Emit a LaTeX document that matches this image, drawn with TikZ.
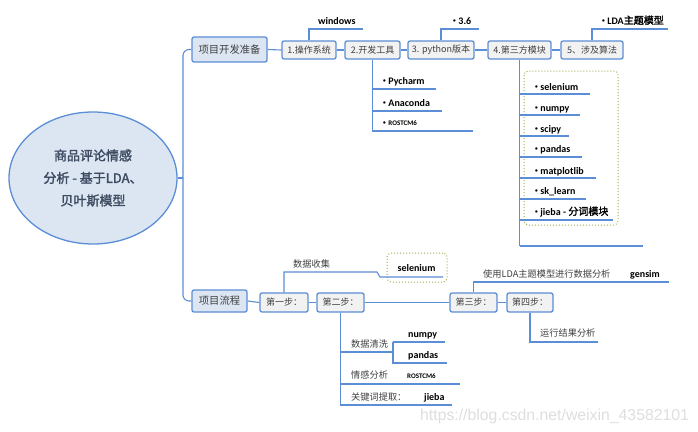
\documentclass[tikz,border=0pt]{standalone}
\usepackage{fontspec}
\setmainfont{Carlito}
\newfontfamily\cjk[AutoFakeBold=2]{Noto Sans CJK SC}
\newfontfamily\wmfont{Liberation Sans}
\usetikzlibrary{shapes.geometric}
\definecolor{lb}{HTML}{5B8ED6}
\definecolor{lbfill}{HTML}{DCE6F2}
\definecolor{boxfill}{HTML}{F2F2F2}
\definecolor{grn}{HTML}{9BAE4E}
\definecolor{dtext}{HTML}{3F3F3F}
\definecolor{roottext}{HTML}{3E4C62}
\newcommand{\bul}{\raisebox{0.25ex}{\fontsize{5.5}{6}\selectfont•}\hspace{2.5pt}}
\begin{document}
\begin{tikzpicture}[x=1pt,y=-1pt,
  ln/.style={draw=lb,line width=1.1pt},
  stepbox/.style={draw=lb,line width=1.3pt,rounded corners=2pt,fill=boxfill,
    font=\cjk\fontsize{9}{10}\selectfont,text=dtext,minimum height=19pt,inner sep=1pt},
  topbox/.style={stepbox,fill=lbfill,font=\cjk\fontsize{10.3}{12}\selectfont},
  lat/.style={inner sep=0,anchor=base west,font=\bfseries\fontsize{10}{11}\selectfont,text=black},
  small/.style={lat,font=\bfseries\fontsize{7}{8}\selectfont},
  ctx/.style={inner sep=0,anchor=base west,font=\cjk\fontsize{9.2}{10}\selectfont,text=dtext},
  dotbox/.style={draw=grn,line width=1pt,dotted,rounded corners=4pt}
]
\useasboundingbox (0,0) rectangle (698,431);

% root
\node[ellipse,draw=lb,line width=1.3pt,fill=lbfill,minimum width=168pt,minimum height=132pt,
  align=center,font=\cjk\bfseries\fontsize{13}{22.5}\selectfont,text=roottext] (root) at (93,178)
  {商品评论情感\\分析 - 基于LDA、\\贝叶斯模型};

% level 1
\node[topbox,minimum width=75pt,minimum height=25pt] (dev) at (229.5,49.5) {项目开发准备};
\node[topbox,minimum width=55pt,minimum height=22pt] (flow) at (219.5,301) {项目流程};
\coordinate (tr) at (183,178);
\draw[ln] (root.east) -- (tr);
\draw[ln,rounded corners=6pt] (dev.west) -| (tr) |- (flow.west);

% top row
\node[stepbox,minimum width=54pt,minimum height=18pt] (os) at (309,50) {1.操作系统};
\node[stepbox,minimum width=55pt,minimum height=18pt] (tool) at (372.5,50) {2.开发工具};
\node[stepbox,minimum width=66pt,minimum height=18pt] (py) at (441,50) {3. python版本};
\node[stepbox,minimum width=63pt,minimum height=18pt] (mod) at (519.5,50) {4.第三方模块};
\node[stepbox,minimum width=62pt,minimum height=18pt] (alg) at (592,50) {5、涉及算法};
\draw[ln] (dev.east) -- (os.west);
\draw[ln] (os.east) -- (tool.west);
\draw[ln] (tool.east) -- (py.west);
\draw[ln] (py.east) -- (mod.west);
\draw[ln] (mod.east) -- (alg.west);

% windows, 3.6, LDA
\node[lat] (win) at (318,24) {windows};
\coordinate (winE) at (363,29);
\draw[ln] (os.north) |- (winE);
\node[lat] (v36) at (453,24) {\bul 3.6};
\coordinate (v36E) at (479,29);
\draw[ln] (py.north) |- (v36E);
\node[lat] (lda) at (602,24) {\bul LDA{\cjk\bfseries 主题模型}};
\coordinate (ldaE) at (668,29);
\draw[ln] (alg.north) |- (ldaE);

% tools children
\node[lat] (pyc) at (383,84) {\bul Pycharm};
\node[lat] (ana) at (383,106) {\bul Anaconda};
\node[small] (ros1) at (383,125) {\bul ROSTCM6};
\coordinate (t1) at (436,89);
\coordinate (t2) at (442,111);
\coordinate (t3) at (473,131);
\draw[ln] (tool.south) -- (tool.south |- t3) -- (t3);
\draw[ln] (tool.south |- t1) -- (t1);
\draw[ln] (tool.south |- t2) -- (t2);

% modules children
\draw[dotbox] (524,71) rectangle (618,225);
\node[lat] (m1) at (535,90) {\bul selenium};
\node[lat] (m2) at (535,111) {\bul numpy};
\node[lat] (m3) at (535,132) {\bul scipy};
\node[lat] (m4) at (535,152) {\bul pandas};
\node[lat] (m5) at (535,174) {\bul matplotlib};
\node[lat] (m6) at (535,194) {\bul sk\_learn};
\node[lat] (m7) at (535,215) {\bul jieba - {\cjk\bfseries 分词模块}};
\foreach \n/\y/\e in {a/94/590,b/115/580,c/136/569,d/157/582,e/178/596,f/199/586,g/220/613,h/246/643}{
  \coordinate (mu\n) at (\e,\y);
  \draw[ln] (mod.south |- mu\n) -- (mu\n);
}
\draw[ln] (mod.south) -- (mod.south |- muh);

% flow row
\node[stepbox,minimum width=48pt] (s1) at (284,302.5) {第一步：};
\node[stepbox,minimum width=47pt] (s2) at (340.5,302.5) {第二步：};
\node[stepbox,minimum width=47pt] (s3) at (473.5,302.5) {第三步：};
\node[stepbox,minimum width=46pt] (s4) at (530,302.5) {第四步：};
\draw[ln] (flow.east) -- (s1.west);
\draw[ln] (s1.east) -- (s2.west);
\draw[ln] (s2.east) -- (s3.west);
\draw[ln] (s3.east) -- (s4.west);

% step 1
\node[ctx] (collect) at (293,267) {数据收集};
\node[dotbox,minimum width=60pt,minimum height=29pt,inner sep=0] (selbox) at (417,267.5) {};
\node[lat,anchor=base] (sel) at (416.5,271) {selenium};
\coordinate (c1) at (377,272);
\coordinate (c2) at (380,277);
\coordinate (c3) at (443,277);
\draw[ln] (s1.north) |- (c1) -- (c2) -- (c3);

% step 3
\node[ctx] (lda2) at (483,277) {使用LDA主题模型进行数据分析};
\node[lat] (gen) at (630,277) {gensim};
\coordinate (g1) at (669,282);
\draw[ln] (s3.north) |- (g1);

% step 4
\node[ctx] (run) at (540,336) {运行结果分析};
\coordinate (r1) at (598,342);
\draw[ln] (s4.south) |- (r1);

% step 2
\node[ctx] (clean) at (351,347) {数据清洗};
\node[lat] (np) at (408,337) {numpy};
\node[lat] (pd) at (408,358) {pandas};
\node[ctx] (senti) at (351,378) {情感分析};
\node[small] (ros2) at (407,378) {ROSTCM6};
\node[ctx] (kw) at (351,400) {关键词提取：};
\node[lat] (jb) at (424,400) {jieba};
\coordinate (w1) at (393,352);
\coordinate (w2) at (445,342);
\coordinate (w3) at (447,363);
\coordinate (w4) at (460,384);
\coordinate (w5) at (452,405);
\draw[ln] (s2.south) -- (s2.south |- w5) -- (w5);
\draw[ln] (s2.south |- w1) -- (w1);
\draw[ln] (s2.south |- w4) -- (w4);
\draw[ln] (w1 |- w2) -- (w2);
\draw[ln] (w1 |- w2) -- (w1 |- w3) -- (w3);

% watermark
\node[inner sep=0,anchor=base west,font=\wmfont\fontsize{15.8}{17}\selectfont,text=black!13] (wm) at (420,420) {https://blog.csdn.net/weixin\_43582101};
\end{tikzpicture}
\end{document}
